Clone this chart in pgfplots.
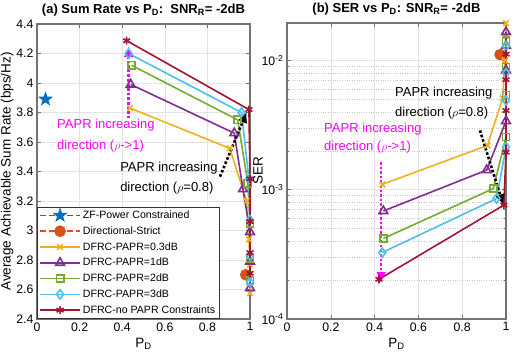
\documentclass[border=0pt]{standalone}
\usepackage{fontspec}
\setmainfont{Liberation Sans}
\setsansfont{Liberation Sans}
\usepackage{pgfplots}
\pgfplotsset{compat=1.18}
\usetikzlibrary{arrows.meta}

\definecolor{mblue}{rgb}{0,0.447,0.741}
\definecolor{morange}{rgb}{0.85,0.325,0.098}
\definecolor{myellow}{rgb}{0.929,0.694,0.125}
\definecolor{mpurple}{rgb}{0.494,0.184,0.556}
\definecolor{mgreen}{rgb}{0.466,0.674,0.188}
\definecolor{mcyan}{rgb}{0.301,0.745,0.933}
\definecolor{mred}{rgb}{0.635,0.078,0.184}
\definecolor{mmag}{rgb}{1,0,1}

% filled five-point star (MATLAB pentagram)
\pgfdeclareplotmark{pentastar}{%
  \pgfpathmoveto{\pgfpointpolar{90}{\pgfplotmarksize}}%
  \pgfpathlineto{\pgfpointpolar{126}{0.4\pgfplotmarksize}}%
  \pgfpathlineto{\pgfpointpolar{162}{\pgfplotmarksize}}%
  \pgfpathlineto{\pgfpointpolar{198}{0.4\pgfplotmarksize}}%
  \pgfpathlineto{\pgfpointpolar{234}{\pgfplotmarksize}}%
  \pgfpathlineto{\pgfpointpolar{270}{0.4\pgfplotmarksize}}%
  \pgfpathlineto{\pgfpointpolar{306}{\pgfplotmarksize}}%
  \pgfpathlineto{\pgfpointpolar{342}{0.4\pgfplotmarksize}}%
  \pgfpathlineto{\pgfpointpolar{18}{\pgfplotmarksize}}%
  \pgfpathlineto{\pgfpointpolar{54}{0.4\pgfplotmarksize}}%
  \pgfpathclose
  \pgfusepathqfillstroke}

\tikzset{annot/.style={font=\fontsize{13}{15}\selectfont, anchor=west, inner sep=0pt},
  arr/.style={line width=2.6pt, dotted, -{Latex[length=11pt,width=10pt]}}}

\pgfplotsset{
  matstyle/.style={
    scale only axis, anchor=south west,
    xmin=0, xmax=1, xtick={0,0.2,0.4,0.6,0.8,1},
    axis line style={draw=black!55, line width=1.2pt},
    tick style={draw=black!55, line width=0.6pt},
    tick align=inside, xtick pos=both, ytick pos=both,
    major tick length=4pt, minor tick length=2pt,
    grid=major, major grid style={gray!22, line width=0.5pt},
    tick label style={font=\fontsize{12.3}{14}\selectfont},
    /pgf/number format/assume math mode=true,
    label style={font=\fontsize{13.5}{16}\selectfont},
    title style={font=\fontsize{13}{15}\selectfont\bfseries, yshift=-2pt},
    xlabel={P\textsubscript{D}},
    clip=false,
  },
  mline/.style={line width=1.6pt, mark size=4pt, mark options={solid}},
  mdash/.style={dash pattern=on 6pt off 3pt},
}

\begin{document}
\begin{tikzpicture}
\useasboundingbox (0pt,0pt) rectangle (514pt,358pt);

\begin{axis}[matstyle, at={(37pt,39pt)}, width=213pt, height=295pt,
    ymin=2.4, ymax=4.4, ytick={2.4,2.6,2.8,3,3.2,3.4,3.6,3.8,4,4.2,4.4},
    ylabel={Average Achievable Sum Rate (bps/Hz)},
    ylabel style={yshift=-4pt},
    title={(a) Sum Rate vs P\textsubscript{D}:\ \ SNR\textsubscript{R}= -2dB},
    legend style={at={(0,0)}, anchor=south west, font=\fontsize{10.6}{12}\selectfont,
      draw=black!80, line width=0.6pt, cells={anchor=west}, row sep=2.6pt,
      inner sep=2pt},
    legend image code/.code={\draw[mark repeat=2, mark phase=2] plot coordinates {(0pt,0pt) (20pt,0pt) (40pt,0pt)};},
  ]
\addplot[mline, mblue, mdash, mark=pentastar, mark size=5.5pt, mark options={solid, fill=mblue}] coordinates {(0.04,3.89)};
\addplot[mline, morange, mdash, mark=*, mark size=5pt, mark options={solid, fill=morange}] coordinates {(0.98,2.70)};
\addplot[mline, myellow, mark=x] coordinates {(0.437,3.83) (0.905,3.557) (0.984,3.20) (0.995,2.94) (1,2.77) (1,2.574)};
\addplot[mline, mpurple, mark=triangle, mark size=5pt] coordinates {(0.44,3.99) (0.926,3.66) (0.967,3.28) (1,2.99) (1,2.79) (1,2.61)};
\addplot[mline, mgreen, mark=square, mark size=3.6pt] coordinates {(0.444,4.12) (0.942,3.75) (0.99,3.32) (1,3.05) (1,2.81) (1,2.66)};
\addplot[mline, mcyan, mark=diamond, mark size=4.6pt] coordinates {(0.43,4.20) (0.96,3.80) (0.995,3.35) (1,3.07) (1,2.83) (1,2.65)};
\addplot[mline, mred, mark=asterisk] coordinates {(0.421,4.287) (0.995,3.82) (1,3.35) (1,3.06) (1,2.85) (1,2.71)};
\legend{ZF-Power Constrained, Directional-Strict, DFRC-PAPR=0.3dB, DFRC-PAPR=1dB, DFRC-PAPR=2dB, DFRC-PAPR=3dB, DFRC-no PAPR Constraints}
\draw[mmag, arr] (axis cs:0.43,3.76) -- (axis cs:0.43,4.25);
\draw[black, arr] (axis cs:0.859,3.365) -- (axis cs:0.985,3.805);
\node[annot, text=mmag] at (axis cs:0.094,3.715) {PAPR increasing};
\node[annot, text=mmag] at (axis cs:0.094,3.573) {direction ($\rho$->1)};
\node[annot] at (axis cs:0.39,3.422) {PAPR increasing};
\node[annot] at (axis cs:0.39,3.286) {direction ($\rho$=0.8)};
\end{axis}

\begin{axis}[matstyle, at={(287pt,39pt)}, width=219pt, height=296pt,
    ymode=log, ymin=1e-4, ymax=0.0195,
    ytick={1e-4,1e-3,1e-2}, yticklabels={10\textsuperscript{-4},10\textsuperscript{-3},10\textsuperscript{-2}},
    yminorgrids=true, minor grid style={gray!45, dotted, line width=0.6pt},
    ylabel={SER}, ylabel style={yshift=-8pt},
    title={(b) SER vs P\textsubscript{D}: SNR\textsubscript{R}= -2dB},
  ]
\addplot[mline, morange, mdash, mark=*, mark size=5pt, mark options={solid, fill=morange}] coordinates {(0.973,1.11e-2)};
\addplot[mline, myellow, mark=x] coordinates {(0.435,1.1e-3) (0.915,2.2e-3) (0.985,5.1e-3) (0.995,1.0e-2) (0.998,1.55e-2) (1,1.95e-2)};
\addplot[mline, mpurple, mark=triangle, mark size=5pt] coordinates {(0.44,6.85e-4) (0.912,1.42e-3) (1,3.4e-3) (1,8.4e-3) (1,1.3e-2) (1,1.66e-2)};
\addplot[mline, mgreen, mark=square, mark size=3.6pt] coordinates {(0.44,4.2e-4) (0.942,1.02e-3) (1,2.56e-3) (1,5.4e-3) (1,8.9e-3) (1,1.42e-2)};
\addplot[mline, mcyan, mark=diamond, mark size=4.6pt] coordinates {(0.435,3.27e-4) (0.957,8.55e-4) (1,2.14e-3) (1,4.9e-3) (1,8e-3) (1,1.29e-2)};
\addplot[mline, mred, mark=asterisk] coordinates {(0.42,2.03e-4) (0.99,7.6e-4) (1,1.95e-3) (1,4.1e-3) (1,7.1e-3) (1,1.12e-2)};
\draw[mmag, arr] (axis cs:0.43,1.64e-3) -- (axis cs:0.43,1.9e-4);
\draw[black, arr] (axis cs:0.881,2.88e-3) -- (axis cs:0.988,7.6e-4);
\node[annot, text=mmag] at (axis cs:0.169,2.97e-3) {PAPR increasing};
\node[annot, text=mmag] at (axis cs:0.169,2.14e-3) {direction ($\rho$->1)};
\node[annot] at (axis cs:0.493,5.56e-3) {PAPR increasing};
\node[annot] at (axis cs:0.493,3.9e-3) {direction ($\rho$=0.8)};
\end{axis}
\end{tikzpicture}
\end{document}
